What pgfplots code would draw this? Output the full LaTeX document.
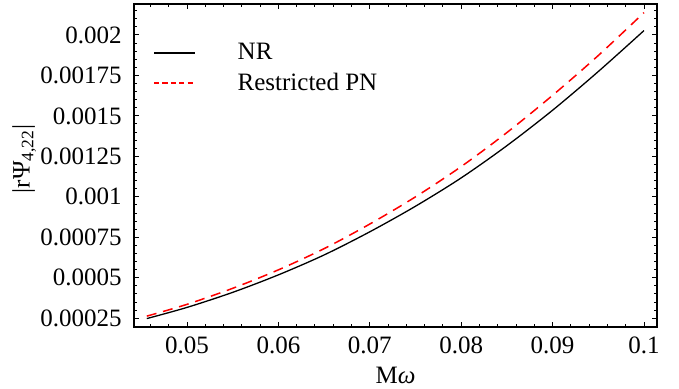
\documentclass[border=0pt]{standalone}
\usepackage{fontspec}
\setmainfont{Liberation Serif}
\usepackage{pgfplots}
\pgfplotsset{compat=1.18}
\usetikzlibrary{calc}
\begin{document}
\begin{tikzpicture}[font=\fontsize{12.5}{15}\selectfont]
\begin{axis}[
  scale only axis, width=261.5pt, height=161.5pt,
  xmin=0.0442, xmax=0.10142, ymin=0.000196, ymax=0.002191,
  xtick={0.05,0.06,0.07,0.08,0.09,0.1},
  xticklabels={\mbox{0.05},\mbox{0.06},\mbox{0.07},\mbox{0.08},\mbox{0.09},\mbox{0.1}},
  ytick={0.00025,0.0005,0.00075,0.001,0.00125,0.0015,0.00175,0.002},
  yticklabels={\mbox{0.00025},\mbox{0.0005},\mbox{0.00075},\mbox{0.001},\mbox{0.00125},\mbox{0.0015},\mbox{0.00175},\mbox{0.002}},
  minor xtick={0.046,0.048,0.052,0.054,0.056,0.058,0.062,0.064,0.066,0.068,0.072,0.074,0.076,0.078,0.082,0.084,0.086,0.088,0.092,0.094,0.096,0.098},
  minor ytick={0.0003,0.00035,0.0004,0.00045,0.00055,0.0006,0.00065,0.0007,0.0008,0.00085,0.0009,0.00095,0.00105,0.0011,0.00115,0.0012,0.0013,0.00135,0.0014,0.00145,0.00155,0.0016,0.00165,0.0017,0.0018,0.00185,0.0019,0.00195,0.00205,0.0021,0.00215},
  scaled ticks=false,
  /pgf/number format/assume math mode=true,
  tick align=inside,
  major tick length=2.6pt, minor tick length=1.6pt,
  axis line style={line width=0.8pt},
  every tick/.style={black, line width=0.5pt},
  ticklabel style={font=\fontsize{12.5}{15}\selectfont\rmfamily},
  xticklabel style={yshift=-1.3pt},
  yticklabel style={xshift=-2.6pt},
  xlabel={M\textit{ω}},
  ylabel={|rΨ\textsubscript{4,22}|},
  xlabel style={at={(axis description cs:0.5,-0.149)}, anchor=center},
  ylabel style={at={(axis description cs:-0.21,0.52)}, anchor=center},
  legend cell align=left,
  legend style={draw=none, fill=none, at={(rel axis cs:0,1)}, anchor=north west,
    xshift=9.5pt, yshift=-19.5pt, row sep=5pt, inner sep=0pt,
    nodes={inner sep=0pt, anchor=west}},
]
\coordinate (sw) at (rel axis cs:0,0);
\coordinate (ne) at (rel axis cs:1,1);
\addplot[black, line width=0.65pt, smooth,
  legend image code/.code={\draw[black, line width=0.65pt] (0pt,0pt) -- (20.5pt,0pt);}]
  table {
x y
0.0456 0.000248
0.050 0.000317
0.055 0.000410
0.060 0.000518
0.065 0.000641
0.070 0.000784
0.075 0.000942
0.080 0.001117
0.085 0.001316
0.090 0.001535
0.095 0.001774
0.100 0.002027
};
\addlegendentry{\hspace{21pt}NR}
\addplot[red, line width=0.75pt, smooth, dash pattern=on 5pt off 3.4pt,
  legend image code/.code={\draw[red, line width=0.6pt, dash pattern=on 2.6pt off 1.6pt] (0pt,0pt) -- (20.5pt,0pt);}]
  table {
x y
0.0456 0.000263
0.050 0.000336
0.055 0.000435
0.060 0.000549
0.065 0.000680
0.070 0.000832
0.075 0.001000
0.080 0.001187
0.085 0.001397
0.090 0.001627
0.095 0.001873
0.100 0.002138
};
\addlegendentry{\hspace{21pt}Restricted PN}
\end{axis}
\pgfresetboundingbox
\path ($(sw)+(-67pt,-31pt)$) rectangle ($(ne)+(11pt,2pt)$);
\end{tikzpicture}
\end{document}
